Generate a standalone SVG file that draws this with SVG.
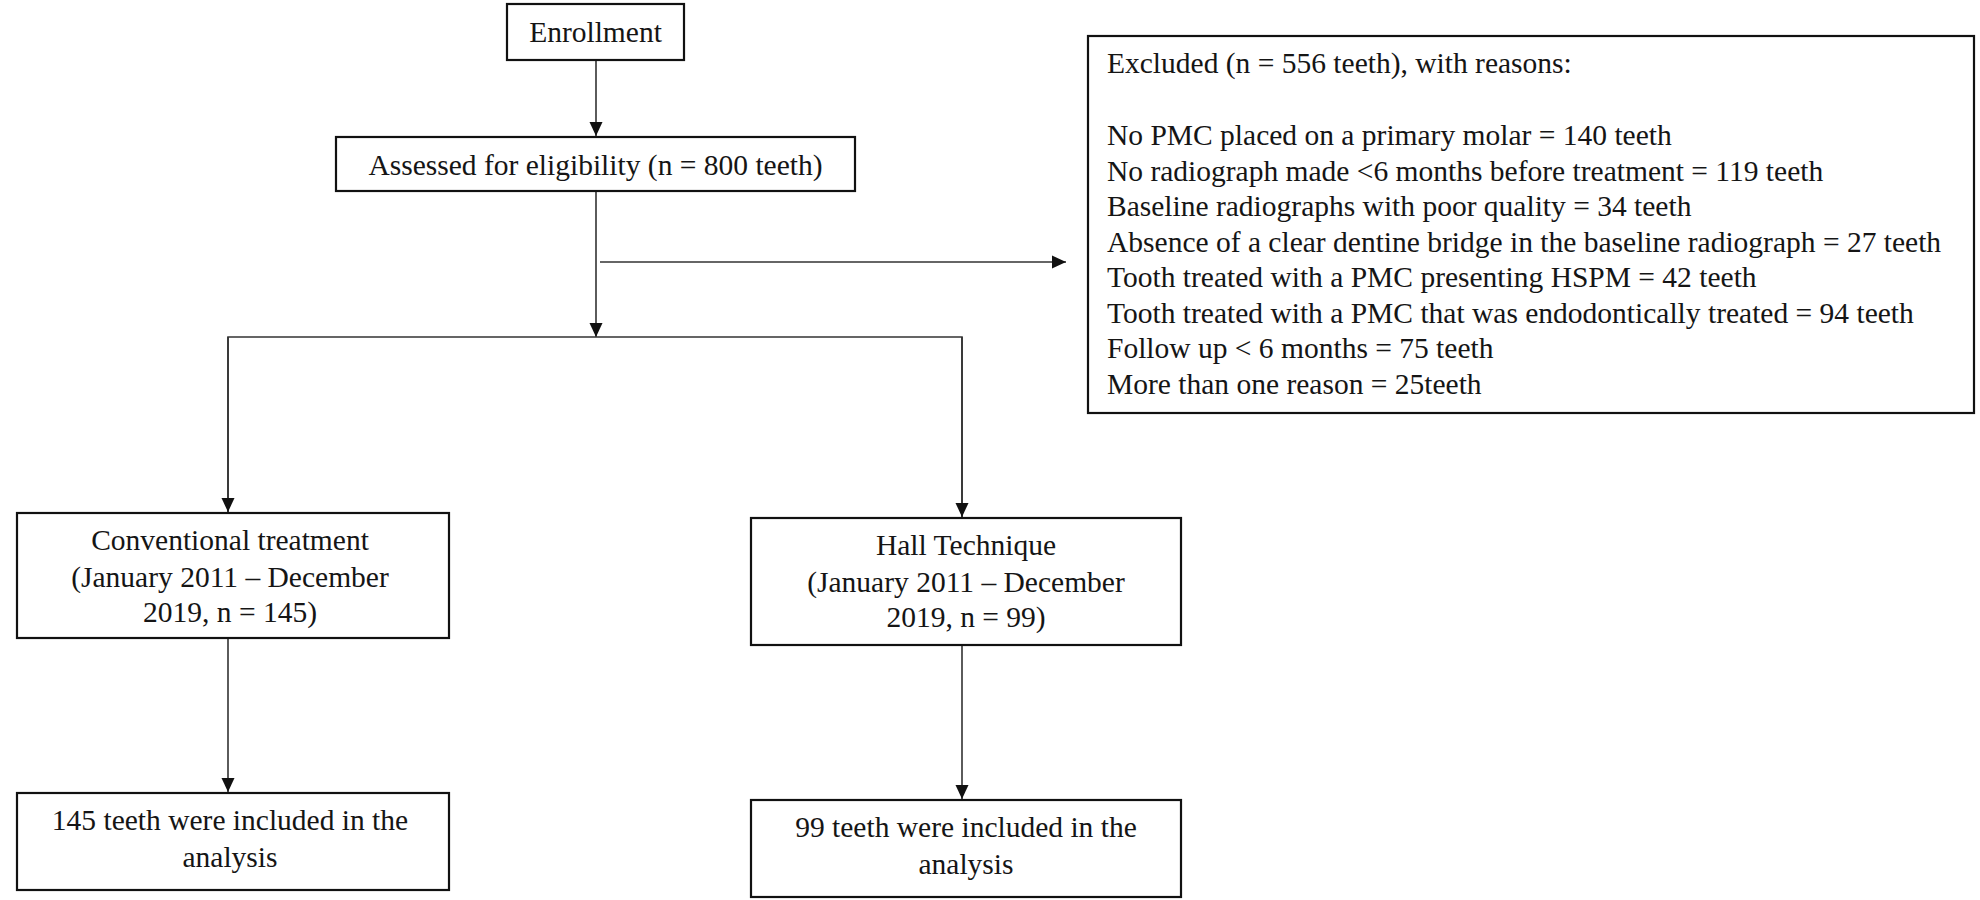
<svg xmlns="http://www.w3.org/2000/svg" width="1980" height="900" viewBox="0 0 1980 900">
<style>
.box{fill:#fff;stroke:#111;stroke-width:2.2}
.t{font-family:"Liberation Serif","Times New Roman",serif;font-size:29.5px;fill:#151515}
.c{text-anchor:middle}
.ln{stroke:#333;stroke-width:1.6;fill:none}
</style>
<defs>
<marker id="ah" markerWidth="14" markerHeight="14" viewBox="0 0 14 14" refX="14" refY="7" orient="auto" markerUnits="userSpaceOnUse">
<path d="M0,0.5 L14,7 L0,13.5 Z" fill="#111"/>
</marker>
</defs>
<rect width="1980" height="900" fill="#fff"/>
<g id="connectors">
<line class="ln" x1="596" y1="61" x2="596" y2="136" marker-end="url(#ah)"/>
<line class="ln" x1="596" y1="192" x2="596" y2="337" marker-end="url(#ah)"/>
<line class="ln" x1="600" y1="262" x2="1066" y2="262" marker-end="url(#ah)"/>
<polyline class="ln" points="228,513 228,337 962,337 962,518"/>
<line class="ln" x1="228" y1="337" x2="228" y2="512" marker-end="url(#ah)"/>
<line class="ln" x1="962" y1="337" x2="962" y2="517" marker-end="url(#ah)"/>
<line class="ln" x1="228" y1="639" x2="228" y2="792" marker-end="url(#ah)"/>
<line class="ln" x1="962" y1="646" x2="962" y2="799" marker-end="url(#ah)"/>
</g>
<g id="enrollment">
<rect class="box" x="507" y="4" width="177" height="56"/>
<text class="t c" x="595.5" y="42">Enrollment</text>
</g>
<g id="assessed">
<rect class="box" x="336" y="137" width="519" height="54"/>
<text class="t c" x="595.5" y="175">Assessed for eligibility (n = 800 teeth)</text>
</g>
<g id="excluded">
<rect class="box" x="1088" y="36" width="886" height="377"/>
<text class="t" x="1107" y="73">Excluded (n = 556 teeth), with reasons:</text>
<text class="t" x="1107" y="145">No PMC placed on a primary molar = 140 teeth</text>
<text class="t" x="1107" y="180.5">No radiograph made &lt;6 months before treatment = 119 teeth</text>
<text class="t" x="1107" y="216">Baseline radiographs with poor quality = 34 teeth</text>
<text class="t" x="1107" y="251.5">Absence of a clear dentine bridge in the baseline radiograph = 27 teeth</text>
<text class="t" x="1107" y="287">Tooth treated with a PMC presenting HSPM = 42 teeth</text>
<text class="t" x="1107" y="322.5">Tooth treated with a PMC that was endodontically treated = 94 teeth</text>
<text class="t" x="1107" y="358">Follow up &lt; 6 months = 75 teeth</text>
<text class="t" x="1107" y="393.5">More than one reason = 25teeth</text>
</g>
<g id="conventional">
<rect class="box" x="17" y="513" width="432" height="125"/>
<text class="t c" x="230" y="550">Conventional treatment</text>
<text class="t c" x="230" y="587">(January 2011 – December</text>
<text class="t c" x="230" y="622">2019, n = 145)</text>
</g>
<g id="hall">
<rect class="box" x="751" y="518" width="430" height="127"/>
<text class="t c" x="966" y="555">Hall Technique</text>
<text class="t c" x="966" y="592">(January 2011 – December</text>
<text class="t c" x="966" y="627">2019, n = 99)</text>
</g>
<g id="conv-analysis">
<rect class="box" x="17" y="793" width="432" height="97"/>
<text class="t c" x="230" y="830">145 teeth were included in the</text>
<text class="t c" x="230" y="867">analysis</text>
</g>
<g id="hall-analysis">
<rect class="box" x="751" y="800" width="430" height="97"/>
<text class="t c" x="966" y="837">99 teeth were included in the</text>
<text class="t c" x="966" y="874">analysis</text>
</g>
</svg>
